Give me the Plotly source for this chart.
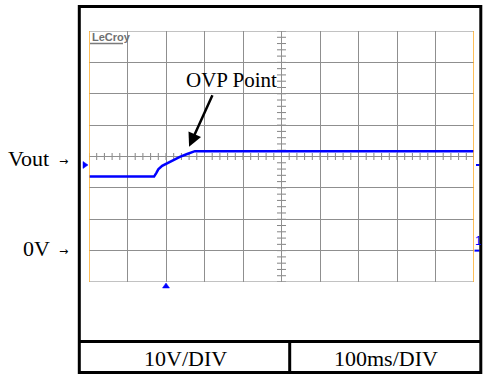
import numpy as np
import plotly.graph_objects as go

# ---- data (time in ms, voltage in V) ----
time_ms = [0, 169, 175, 180, 190, 202, 215, 236, 255, 275, 1000]
vout_v = [23.6, 23.6, 24.8, 25.9, 27.0, 27.8, 28.7, 29.9, 30.8, 31.7, 31.7]

x_range = [0, 1000]      # 10 div x 100 ms
y_range = [-10, 70]      # 8 div x 10 V
x_div = 100
y_div = 10

ovp_point = (260, 33.1)          # arrow tip
ovp_label = "OVP Point"
vout_level = 27.3
trigger_time = 200
left_labels = ["Vout", "0V"]
table_labels = ["10V/DIV", "100ms/DIV"]

# ---- geometry helpers (page pixels -> paper) ----
W, H = 483, 374
L, R, T, B = 89, 474, 31, 282


def px(x):
    return (x - L) / (R - L)


def py(y):
    return (B - y) / (B - T)


def vx(t):   # data time -> page pixel x
    return L + (t - x_range[0]) / (x_range[1] - x_range[0]) * (R - L)


def vy(v):   # data volts -> page pixel y
    return B - (v - y_range[0]) / (y_range[1] - y_range[0]) * (B - T)


def tri_path(pts):
    return "M " + " L ".join(f"{px(a):.5f},{py(b):.5f}" for a, b in pts) + " Z"


fig = go.Figure()

fig.add_trace(go.Scatter(
    x=time_ms, y=vout_v, mode="lines",
    line=dict(color="rgb(0,0,255)", width=2.5),
    hoverinfo="skip", showlegend=False))

shapes = []
blue = "rgb(0,0,255)"
# channel offset marker (left, pointing right)
yv = vy(vout_level)
shapes.append(dict(type="path", xref="paper", yref="paper",
                   path=tri_path([(83, yv - 3.5), (88, yv), (83, yv + 3.5)]),
                   fillcolor=blue, line=dict(color=blue, width=0.5)))
# trigger position marker (bottom, pointing up)
xt = vx(trigger_time)
shapes.append(dict(type="path", xref="paper", yref="paper",
                   path=tri_path([(xt - 3.5, 288), (xt, 283), (xt + 3.5, 288)]),
                   fillcolor=blue, line=dict(color=blue, width=0.5)))
# right-side dashes (vout level and ground)
for yy, x0 in ((yv, 476), (vy(0), 474.5)):
    shapes.append(dict(type="line", xref="paper", yref="paper",
                       x0=px(x0), x1=px(479.5), y0=py(yy), y1=py(yy),
                       line=dict(color=blue, width=2)))

tick_col = "#858585"
x_center = (x_range[0] + x_range[1]) / 2
y_center = (y_range[0] + y_range[1]) / 2
for t in np.arange(x_range[0], x_range[1] + 1e-9, x_div / 5):
    shapes.append(dict(type="line", xref="x", yref="y", ysizemode="pixel",
                       yanchor=y_center, x0=t, x1=t, y0=-3.5, y1=3.5,
                       line=dict(color=tick_col, width=1), layer="below"))
for v in np.arange(y_range[0], y_range[1] + 1e-9, y_div / 5):
    shapes.append(dict(type="line", xref="x", yref="y", xsizemode="pixel",
                       xanchor=x_center, y0=v, y1=v, x0=-4.5, x1=4.5,
                       line=dict(color=tick_col, width=1), layer="below"))
shapes.append(dict(type="line", xref="x", yref="y", x0=x_range[0], x1=x_range[1],
                   y0=y_center, y1=y_center, line=dict(color=tick_col, width=1), layer="below"))
shapes.append(dict(type="line", xref="x", yref="y", x0=x_center, x1=x_center,
                   y0=y_range[0], y1=y_range[1], line=dict(color=tick_col, width=1), layer="below"))
for yy in y_range:
    shapes.append(dict(type="line", xref="x", yref="y", x0=x_range[0], x1=x_range[1],
                       y0=yy, y1=yy, line=dict(color="#858585", width=1.2), layer="below"))
for xx in x_range:
    shapes.append(dict(type="line", xref="x", yref="y", x0=xx, x1=xx,
                       y0=y_range[0], y1=y_range[1], line=dict(color="#FFAA22", width=1.5)))

# black frame and table
blk = dict(color="black", width=3)
shapes.append(dict(type="rect", xref="paper", yref="paper",
                   x0=px(79.3), x1=px(480.8), y0=py(6.5), y1=py(372.5), line=blk))
shapes.append(dict(type="line", xref="paper", yref="paper",
                   x0=px(79.3), x1=px(480.8), y0=py(341.5), y1=py(341.5), line=blk))
shapes.append(dict(type="line", xref="paper", yref="paper",
                   x0=px(289.7), x1=px(289.7), y0=py(341.5), y1=py(372.5), line=blk))
# logo underline
shapes.append(dict(type="line", xref="paper", yref="paper",
                   x0=px(90), x1=px(123), y0=py(43.5), y1=py(43.5),
                   line=dict(color="#7a7a7a", width=1.5)))

serif = "Liberation Serif, Times New Roman, serif"
ann = []
ann.append(dict(xref="paper", yref="paper", x=px(89.5), y=py(37.5), xanchor="left",
                yanchor="middle", text="<b>LeCroy</b>", showarrow=False,
                font=dict(family="Liberation Sans, Arial", size=11, color="#707070")))
ann.append(dict(xref="x", yref="y", x=ovp_point[0], y=ovp_point[1], ax=24, ay=-53,
                text="", showarrow=True, arrowhead=2, arrowsize=1.1, arrowwidth=2.5,
                arrowcolor="black"))
ann.append(dict(xref="paper", yref="paper", x=px(231), y=py(80), xanchor="center",
                yanchor="middle", text=ovp_label, showarrow=False,
                font=dict(family=serif, size=21, color="black")))
ann.append(dict(xref="paper", yref="paper", x=px(51), y=py(158), xanchor="right",
                yanchor="middle", text=left_labels[0], showarrow=False,
                font=dict(family=serif, size=22, color="black")))
ann.append(dict(xref="paper", yref="paper", x=px(52), y=py(248.5), xanchor="right",
                yanchor="middle", text=left_labels[1], showarrow=False,
                font=dict(family=serif, size=22, color="black")))
for yy in (161.5, 251.5):
    ann.append(dict(xref="paper", yref="paper", x=px(63), y=py(yy), xanchor="center",
                    yanchor="middle", text="→", showarrow=False,
                    font=dict(family="DejaVu Sans, sans-serif", size=11, color="black")))
ann.append(dict(xref="paper", yref="paper", x=px(478), y=py(241), xanchor="center",
                yanchor="middle", text="1", showarrow=False,
                font=dict(family="Liberation Sans, Arial", size=12, color=blue)))
ann.append(dict(xref="paper", yref="paper", x=px(185), y=py(358), xanchor="center",
                yanchor="middle", text=table_labels[0], showarrow=False,
                font=dict(family=serif, size=22, color="black")))
ann.append(dict(xref="paper", yref="paper", x=px(386), y=py(358), xanchor="center",
                yanchor="middle", text=table_labels[1], showarrow=False,
                font=dict(family=serif, size=22, color="black")))

fig.update_layout(
    width=W, height=H,
    margin=dict(l=L, r=W - R, t=T, b=H - B, pad=0),
    paper_bgcolor="white", plot_bgcolor="white",
    showlegend=False,
    shapes=shapes, annotations=ann,
    xaxis=dict(range=x_range, dtick=x_div, tick0=0, showgrid=True,
               gridcolor="#8f8f8f", gridwidth=1, zeroline=False,
               showticklabels=False, ticks="", showline=False, fixedrange=True),
    yaxis=dict(range=y_range, dtick=y_div, tick0=0, showgrid=True,
               gridcolor="#8f8f8f", gridwidth=1, zeroline=False,
               showticklabels=False, ticks="", showline=False, fixedrange=True),
)

fig.write_html("out.html", config={"displayModeBar": False},
               post_script="document.body.style.margin='0';document.body.style.padding='0';")
